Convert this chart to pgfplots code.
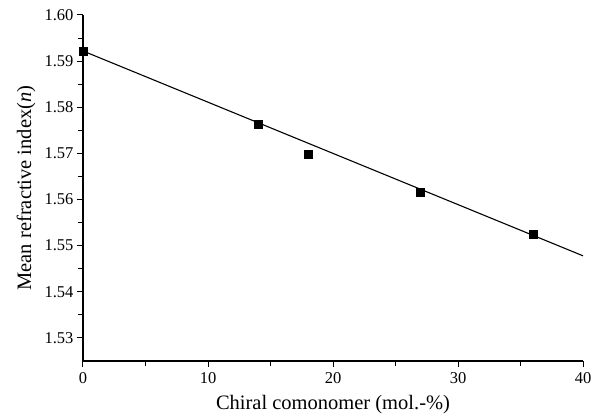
\documentclass[border=0pt]{standalone}
\usepackage{fontspec}
\setmainfont{Liberation Serif}
\usepackage{pgfplots}
\pgfplotsset{compat=1.18}
\begin{document}
\begin{tikzpicture}
\begin{axis}[
  width=500bp, height=346bp, scale only axis,
  xmin=0, xmax=40, ymin=1.525, ymax=1.60,
  axis lines=left, axis line style={-, line width=1.4bp},
  tick align=outside,
  xtick={0,10,20,30,40}, ytick={1.53,1.54,1.55,1.56,1.57,1.58,1.59,1.60},
  minor x tick num=1, minor y tick num=1,
  major tick length=6bp, minor tick length=5bp,
  tick style={line width=1bp, black},
  /pgf/number format/assume math mode=true,
  yticklabel style={/pgf/number format/.cd, fixed, fixed zerofill, precision=2},
  ticklabel style={font=\fontsize{16.5bp}{19bp}\selectfont},
  xticklabel style={yshift=-2bp},
  label style={font=\fontsize{20.5bp}{24bp}\selectfont},
  xlabel={Chiral comonomer (mol.-\%)},
  ylabel={Mean refractive index(\textit{n})},
  xlabel style={at={([yshift=-44bp]axis description cs:0.5,0)}, anchor=center},
  ylabel style={at={([xshift=-57bp]axis description cs:0,0.5)}, anchor=center, rotate=0},
]
\coordinate (o) at (rel axis cs:0,0);
\addplot[black, line width=1.1bp] coordinates {(0,1.5922) (40,1.5478)};
\addplot[only marks, mark=square*, mark size=4bp, black] coordinates {
(0,1.5922) (14,1.5763) (18,1.5698) (27,1.5615) (36,1.5524)};
\end{axis}
\pgfresetboundingbox
\path[use as bounding box] ([shift={(-83bp,-55bp)}]o) rectangle ([shift={(522bp,361bp)}]o);
\end{tikzpicture}
\end{document}
